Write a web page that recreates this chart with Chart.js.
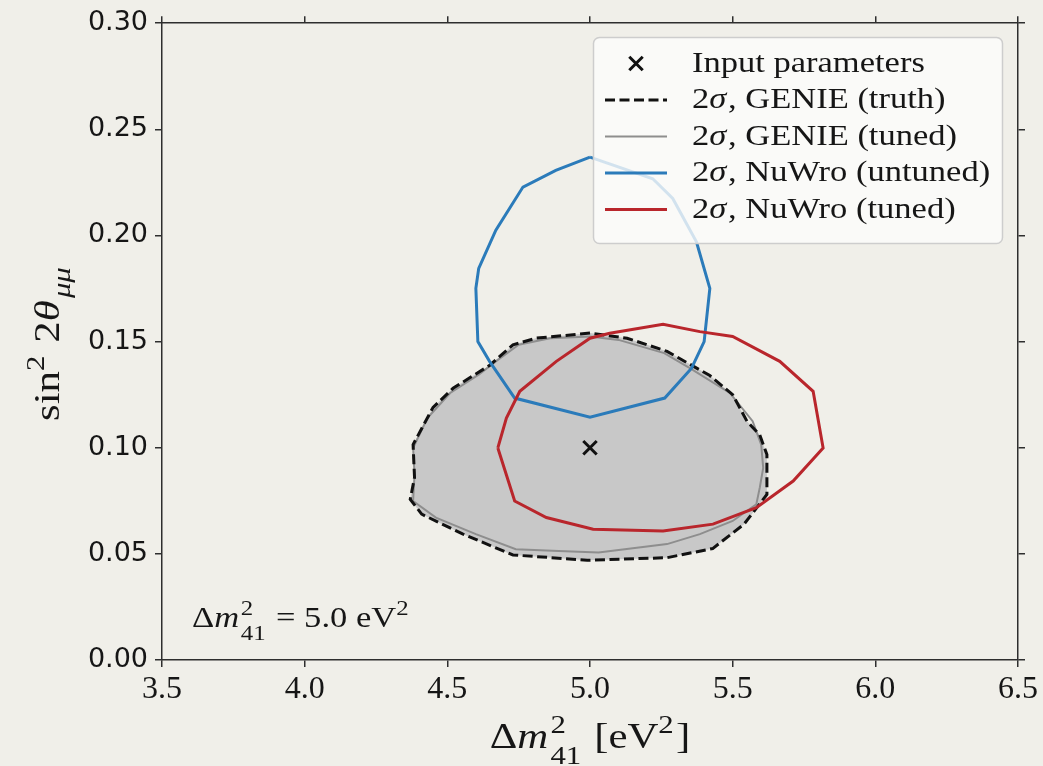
<!DOCTYPE html>
<html>
<head>
<meta charset="utf-8">
<title>2σ sensitivity contours</title>
<script src="https://cdn.jsdelivr.net/npm/chart.js@4.4.1/dist/chart.umd.min.js"></script>
<style>
  html, body { margin: 0; padding: 0; background: #f0efe9; }
  #wrap { position: relative; width: 1043px; height: 766px; }
</style>
</head>
<body>
<div id="wrap"><canvas id="chart"></canvas></div>
<script>
// Injected oscillation point
const inputDm2 = [5.0];
const inputSin2 = [0.10];

// 2σ contour, GENIE (truth) — Δm²41 [eV²] and sin²2θμμ
const genieTruthDm2 = [5.00, 4.81, 4.73, 4.65, 4.52, 4.45, 4.38, 4.385, 4.37, 4.41, 4.555, 4.73, 4.99,
  5.27, 5.43, 5.54, 5.62, 5.62, 5.595, 5.55, 5.50, 5.42, 5.27, 5.13];
const genieTruthSin2 = [0.154, 0.1516, 0.1485, 0.139, 0.128, 0.119, 0.1015, 0.086, 0.0757, 0.0687, 0.0593, 0.0495, 0.047,
  0.0482, 0.0525, 0.064, 0.078, 0.0968, 0.106, 0.1125, 0.125, 0.134, 0.1454, 0.1516];

// 2σ contour, GENIE (tuned)
const genieTunedDm2 = [5.00, 5.10, 5.26, 5.35, 5.49, 5.57, 5.60, 5.607, 5.595, 5.583, 5.50, 5.385, 5.27,
  5.03, 4.89, 4.74, 4.60, 4.46, 4.38, 4.385, 4.38, 4.43, 4.51, 4.61, 4.67, 4.75, 4.86];
const genieTunedSin2 = [0.1524, 0.1508, 0.1446, 0.1375, 0.1258, 0.1125, 0.1015, 0.0905, 0.0812, 0.0734, 0.0655, 0.0593, 0.0546,
  0.0506, 0.0514, 0.0522, 0.0593, 0.0671, 0.0749, 0.0874, 0.0999, 0.114, 0.1258, 0.1344, 0.1407, 0.1485, 0.1516];

// 2σ contour, NuWro (untuned)
const nuwroUntunedDm2 = [5.00, 4.88, 4.765, 4.67, 4.61, 4.60, 4.607, 4.648, 4.736, 5.00, 5.262, 5.356, 5.40,
  5.42, 5.373, 5.29, 5.22];
const nuwroUntunedSin2 = [0.2369, 0.2307, 0.2228, 0.2025, 0.1845, 0.1751, 0.150, 0.1407, 0.1234, 0.1144, 0.1234, 0.1375, 0.150,
  0.1751, 0.197, 0.2174, 0.2267];

// 2σ contour, NuWro (tuned)
const nuwroTunedDm2 = [4.677, 4.736, 4.847, 5.011, 5.256, 5.431, 5.583, 5.712, 5.817, 5.782, 5.665, 5.50,
  5.385, 5.256, 5.069, 5.00, 4.882, 4.754, 4.707];
const nuwroTunedSin2 = [0.0999, 0.0749, 0.0671, 0.0616, 0.0608, 0.064, 0.0718, 0.0843, 0.0999, 0.1266, 0.1407, 0.1524,
  0.1547, 0.1582, 0.1539, 0.1516, 0.1407, 0.1266, 0.114];

// Axis ranges and ticks
const dm2Range = [3.5, 6.5];
const dm2Step = 0.5;
const sin2Range = [0.0, 0.30];
const sin2Step = 0.05;

// Closed polygon from paired coordinate lists
function ring(xs, ys) {
  const pts = xs.map((x, i) => ({ x: x, y: ys[i] }));
  pts.push({ x: xs[0], y: ys[0] });
  return pts;
}

const SERIF = '"Liberation Serif", "DejaVu Serif", serif';
const STRETCH = 1.19;
const INK = '#161616';

function fontStr(size, italic) { return (italic ? 'italic ' : '') + size + 'px ' + SERIF; }

function runWidth(ctx, r, size) {
  if (r.sup !== undefined || r.sub !== undefined) {
    const s = size * 0.72;
    ctx.font = fontStr(s, false);
    const a = r.sup ? ctx.measureText(r.sup).width : 0;
    ctx.font = fontStr(s, !!r.subI);
    const b = r.sub ? ctx.measureText(r.sub).width : 0;
    return Math.max(a, b) + size * 0.05;
  }
  ctx.font = fontStr(size, r.i);
  return ctx.measureText(r.t).width + (r.i ? size * 0.05 : 0);
}

// Text with math-style italics, superscripts and subscripts
function drawRich(ctx, runs, x, y, size, opts) {
  opts = opts || {};
  ctx.save();
  ctx.translate(x, y);
  if (opts.rotate) ctx.rotate(opts.rotate);
  ctx.scale(STRETCH, 1);
  ctx.fillStyle = INK;
  ctx.textBaseline = 'alphabetic';
  ctx.textAlign = 'left';
  const total = runs.reduce((w, r) => w + runWidth(ctx, r, size), 0);
  let cx = opts.align === 'center' ? -total / 2 : 0;
  for (const r of runs) {
    const w = runWidth(ctx, r, size);
    if (r.sup !== undefined || r.sub !== undefined) {
      const s = size * 0.72;
      if (r.sup) { ctx.font = fontStr(s, false); ctx.fillText(r.sup, cx, -size * 0.42); }
      if (r.sub) { ctx.font = fontStr(s, !!r.subI); ctx.fillText(r.sub, cx, size * (r.sup ? 0.44 : 0.3)); }
    } else {
      ctx.font = fontStr(size, r.i);
      ctx.fillText(r.t, cx, 0);
    }
    cx += w;
  }
  ctx.restore();
}

function labelRuns(label) {
  const runs = [];
  label.split(/(σ)/).forEach(p => { if (p) runs.push(p === 'σ' ? { t: p, i: true } : { t: p }); });
  return runs;
}

// Legend box inside the plot, top right
const legendPlugin = {
  id: 'contourLegend',
  afterDatasetsDraw(chart) {
    const ctx = chart.ctx;
    const box = { x: 593.5, y: 37.5, w: 409, h: 206, r: 6 };
    ctx.save();
    ctx.beginPath();
    ctx.roundRect(box.x, box.y, box.w, box.h, box.r);
    ctx.fillStyle = 'rgba(252,252,251,0.8)';
    ctx.fill();
    ctx.lineWidth = 1.5;
    ctx.strokeStyle = '#cdcdcd';
    ctx.stroke();
    const items = chart.data.datasets.filter(d => d.label);
    const rowY = [63.5, 100, 136.5, 173, 209.5];
    items.forEach((ds, k) => {
      const y = rowY[k];
      ctx.save();
      ctx.strokeStyle = ds.borderColor;
      ctx.lineWidth = ds.borderWidth;
      if (ds.showLine === false) {
        Chart.helpers.drawPoint(ctx, { pointStyle: ds.pointStyle, radius: ds.pointRadius, borderWidth: ds.borderWidth }, 636, y);
      } else {
        ctx.setLineDash(ds.borderDash || []);
        ctx.beginPath();
        ctx.moveTo(605, y);
        ctx.lineTo(667, y);
        ctx.stroke();
      }
      ctx.restore();
      drawRich(ctx, labelRuns(ds.label), 692, y + 8, 29);
    });
    ctx.restore();
  }
};

// Axis titles and the in-plot annotation
const textPlugin = {
  id: 'mathText',
  afterDraw(chart) {
    const ctx = chart.ctx;
    drawRich(ctx, [{ t: 'Δ' }, { t: 'm', i: true }, { sup: '2', sub: '41' }, { t: ' [eV' }, { sup: '2' }, { t: ']' }],
      590, 748, 36, { align: 'center' });
    drawRich(ctx, [{ t: 'sin' }, { sup: '2' }, { t: ' 2' }, { t: 'θ', i: true }, { sub: 'μμ', subI: true }],
      59, 343, 36, { align: 'center', rotate: -Math.PI / 2 });
    drawRich(ctx, [{ t: 'Δ' }, { t: 'm', i: true }, { sup: '2', sub: '41' }, { t: ' = 5.0 eV' }, { sup: '2' }],
      192, 627, 29);
  }
};

const axisLine = { color: '#2e2e2e', width: 1.5 };
const tickMarks = { drawOnChartArea: false, drawTicks: true, tickLength: 7, color: '#2e2e2e', lineWidth: 1.5 };

new Chart(document.getElementById('chart'), {
  type: 'scatter',
  data: {
    datasets: [
      {
        label: 'Input parameters',
        data: inputDm2.map((x, i) => ({ x: x, y: inputSin2[i] })),
        showLine: false,
        pointStyle: 'crossRot',
        pointRadius: 9.5,
        borderWidth: 3,
        borderColor: '#111111',
        order: 0
      },
      {
        type: 'line',
        label: '2σ, GENIE (truth)',
        data: ring(genieTruthDm2, genieTruthSin2),
        borderColor: '#111111',
        borderWidth: 3,
        borderDash: [10, 4.5],
        pointRadius: 0,
        fill: false,
        tension: 0,
        order: 3
      },
      {
        type: 'line',
        label: '2σ, GENIE (tuned)',
        data: ring(genieTunedDm2, genieTunedSin2),
        borderColor: '#8e8e8e',
        borderWidth: 2,
        pointRadius: 0,
        fill: false,
        tension: 0,
        order: 4
      },
      {
        type: 'line',
        label: '2σ, NuWro (untuned)',
        data: ring(nuwroUntunedDm2, nuwroUntunedSin2),
        borderColor: '#2b7bba',
        borderWidth: 3,
        pointRadius: 0,
        fill: false,
        tension: 0,
        order: 2
      },
      {
        type: 'line',
        label: '2σ, NuWro (tuned)',
        data: ring(nuwroTunedDm2, nuwroTunedSin2),
        borderColor: '#b9262c',
        borderWidth: 3,
        pointRadius: 0,
        fill: false,
        tension: 0,
        order: 1
      },
      {
        type: 'line',
        label: '',
        data: ring(genieTruthDm2, genieTruthSin2),
        borderWidth: 0,
        borderColor: 'rgba(0,0,0,0)',
        backgroundColor: '#c8c8c8',
        pointRadius: 0,
        fill: 'shape',
        tension: 0,
        order: 6
      }
    ]
  },
  options: {
    responsive: true,
    maintainAspectRatio: false,
    animation: false,
    events: [],
    layout: { padding: 0 },
    plugins: {
      legend: { display: false },
      tooltip: { enabled: false }
    },
    scales: {
      x: {
        type: 'linear',
        position: 'bottom',
        min: dm2Range[0],
        max: dm2Range[1],
        ticks: {
          stepSize: dm2Step,
          callback: v => v.toFixed(1),
          font: { family: SERIF, size: 32 },
          color: INK,
          padding: 3,
          maxRotation: 0,
          autoSkip: false
        },
        grid: tickMarks,
        border: axisLine,
        afterFit: s => { s.height = 106; }
      },
      y: {
        type: 'linear',
        position: 'left',
        min: sin2Range[0],
        max: sin2Range[1],
        ticks: {
          stepSize: sin2Step,
          callback: v => v.toFixed(2),
          font: { family: '"DejaVu Sans", sans-serif', size: 27 },
          color: INK,
          padding: 7,
          autoSkip: false
        },
        grid: tickMarks,
        border: axisLine,
        afterFit: s => { s.width = 162; }
      },
      x2: {
        type: 'linear',
        position: 'top',
        min: dm2Range[0],
        max: dm2Range[1],
        ticks: { stepSize: dm2Step, display: false },
        grid: tickMarks,
        border: axisLine,
        afterFit: s => { s.height = 21; }
      },
      y2: {
        type: 'linear',
        position: 'right',
        min: sin2Range[0],
        max: sin2Range[1],
        ticks: { stepSize: sin2Step, display: false },
        grid: tickMarks,
        border: axisLine,
        afterFit: s => { s.width = 25; }
      }
    }
  },
  plugins: [legendPlugin, textPlugin]
});
</script>
</body>
</html>
